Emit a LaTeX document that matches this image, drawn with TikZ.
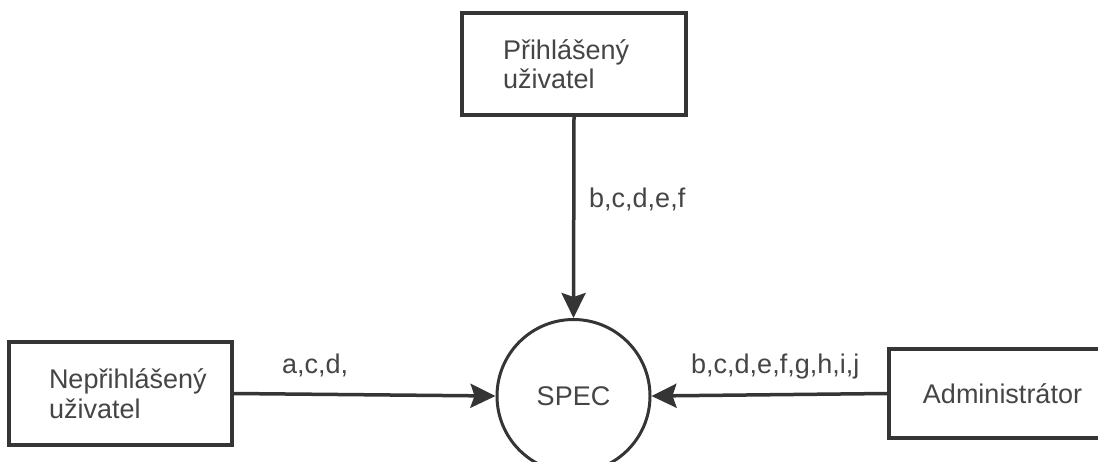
\documentclass[tikz,border=0pt]{standalone}
\usepackage{fontspec}
\setmainfont{Liberation Sans}
\usetikzlibrary{arrows.meta}
\definecolor{linegray}{HTML}{353535}
\definecolor{textgray}{HTML}{454545}
\begin{document}
\begin{tikzpicture}[x=1pt,y=-1pt,
  font=\fontsize{27}{29.5}\selectfont,
  every node/.style={text=textgray},
  entity/.style={draw=linegray, line width=3.5pt, rectangle, fill=white},
  process/.style={draw=linegray, line width=3pt, circle, minimum size=153pt, inner sep=0pt},
  flow/.style={draw=linegray, line width=3.5pt,
    -{Stealth[length=25pt,width=24pt,inset=4pt]}},
  flowlabel/.style={inner sep=0pt, anchor=base west}
]
\useasboundingbox (0,0) rectangle (1098,461);
\clip (0,0) rectangle (1098,461);
\fill[white] (0,0) rectangle (1098,461);

% central process
\node[process] (spec) at (573.5,396) {SPEC};

% external entities
\node[entity, text width=142pt, inner xsep=41pt, inner ysep=0pt,
      minimum height=102pt, align=left] (logged) at (574,64)
      {Přihlášený\\uživatel};
\node[entity, text width=143pt, inner xsep=40pt, inner ysep=0pt,
      minimum height=103pt, align=left] (guest) at (120.5,393.5)
      {Nepřihlášený\\uživatel};
\node[entity, minimum width=227pt, minimum height=89pt] (admin) at (1002.5,393.5)
      {Administrátor};

% data flows
\draw[flow] (logged.south) -- (spec.north);
\draw[flow] (guest.east) -- (spec.west);
\draw[flow] (admin.west) -- (spec.east);

% flow labels
\node[flowlabel] (lblTop) at (589,207) {b,c,d,e,f};
\node[flowlabel] (lblLeft) at (282,373) {a,c,d,};
\node[flowlabel] (lblRight) at (691,373) {b,c,d,e,f,g,h,i,j};
\end{tikzpicture}
\end{document}
